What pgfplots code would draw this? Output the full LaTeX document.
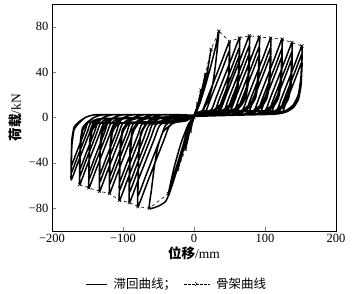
\documentclass[border=0pt]{standalone}
\usepackage{fontspec}
\setmainfont{Liberation Serif}
\newfontfamily\cjk{Noto Sans CJK SC}
\usepackage{pgfplots}
\pgfplotsset{compat=1.18}
\usetikzlibrary{shapes.misc}
\begin{document}
\begin{tikzpicture}
\useasboundingbox (-52pt,-63pt) rectangle (301pt,231pt);
\begin{axis}[
  width=284pt, height=227pt, scale only axis,
  xmin=-200, xmax=200, ymin=-100, ymax=100,
  xtick={-200,-100,0,100,200}, xticklabels={−200,−100,0,100,200},
  ytick={-80,-40,0,40,80}, yticklabels={−80,−40,0,40,80},
  tick align=inside, tick pos=left, major tick length=4pt,
  ticklabel style={font=\fontsize{12.5}{14}\selectfont},
  xlabel={{\cjk\bfseries 位移}/mm}, ylabel={{\cjk\bfseries 荷载}/kN},
  label style={font=\fontsize{13.5}{16}\selectfont},
  xlabel style={yshift=3pt},
  legend columns=2,
  legend style={draw=none, fill=none, at={(0.44,-0.233)}, anchor=center,
    font=\fontsize{12.5}{14}\selectfont,
    /tikz/every even column/.append style={column sep=6pt},
    /tikz/every odd column/.append style={column sep=4pt}},
]
\addplot[black, line width=1.5pt, line join=round, smooth, tension=0.3,
  legend image code/.code={\draw[black, line width=0.5pt] (0cm,0cm) -- (0.75cm,0cm);}] coordinates {
(0,0)(2.5,5)(5,12)(3,6)(0,1)(-2.5,-5)(-5,-12)(-3,-6)(0,0)
(5,10)(10,24)(6,12)(0,2)(-6,-12)(-12,-28)(-7,-14)(0,0)
(8,16)(16,38)(10,20)(3,4)(0,1)(-10,-18)(-23,-46)(-15,-26)(-5,-6)(0,0)
(8,12)(16,30)(24,60)(18,38)(10,16)(3,4)(0,1)(-10,-14)(-24,-42)(-36,-67)(-28,-44)(-18,-22)(-8,-6)(0,1)
(8,12)(16,28)(24,46)(30,61)(35,76)(33,62)(30,45)(26,28)(20,15)(12,6)(5,3)(0,1)(-8,-8)(-16,-26)(-24,-46)(-33,-64)(-40,-74)(-50,-78)(-63,-80)(-60,-64)(-56,-44)(-51,-26)(-44,-13)(-32,-6)(-16,-2)(0,1)
(6.5,2)(13,3)(28,6.7)(38,12.1)(45,21.4)(48.5,36.9)(49.7,53.6)(50,67)(39.5,50.3)(29.1,33.5)(18.6,16.8)(12.3,6.7)(5,3)(0,2)
(-22,2.5)(-44,2.5)(-59,0)(-69,-7.85)(-75,-15.7)(-78,-35.3)(-78.7,-58.9)(-79,-78.5)(-66.7,-58.9)(-54.5,-39.25)(-42.2,-19.6)(-34.8,-7.85)(-19.8,-1)(0,1)
(6.5,2)(13,3)(28,5.9)(38,10.6)(45,18.9)(48.5,32.5)(49.7,47.2)(50,59)(40.8,44.3)(31.6,29.5)(22.3,14.8)(16.8,5.9)(6,3)(0,2)
(-22,2.5)(-44,2.5)(-59,0)(-69,-6.9)(-75,-13.8)(-78,-31.1)(-78.7,-51.8)(-79,-69.1)(-68.2,-51.8)(-57.4,-34.55)(-46.6,-17.3)(-40.1,-6.9)(-25.1,-1)(0,1)
(13.5,2)(27,3)(42,7)(52,12.6)(59,22.4)(62.5,38.5)(63.7,56)(64,70)(53.1,52.5)(42.1,35)(31.2,17.5)(24.6,7)(9.6,3)(0,2)
(-28,2.5)(-56,2.5)(-71,0)(-81,-7.5)(-87,-15)(-90,-33.75)(-90.7,-56.25)(-91,-75)(-79.3,-56.25)(-67.6,-37.5)(-55.8,-18.75)(-48.8,-7.5)(-33.8,-1)(0,1)
(13.5,2)(27,3)(42,6.2)(52,11.1)(59,19.7)(62.5,33.9)(63.7,49.3)(64,61.6)(54.4,46.2)(44.75,30.8)(35.1,15.4)(29.35,6.2)(14.35,3)(0,2)
(-28,2.5)(-56,2.5)(-71,0)(-81,-6.6)(-87,-13.2)(-90,-29.7)(-90.7,-49.5)(-91,-66)(-80.7,-49.5)(-70.4,-33)(-60,-16.5)(-53.9,-6.6)(-38.9,-1)(0,1)
(20.5,2)(41,3)(56,7.2)(66,13)(73,23)(76.5,39.6)(77.7,57.6)(78,72)(66.75,54)(55.5,36)(44.25,18)(37.5,7.2)(22.5,3)(0,2)
(-35,2.5)(-70,2.5)(-85,0)(-95,-7.3)(-101,-14.6)(-104,-32.85)(-104.7,-54.75)(-105,-73)(-93.6,-54.75)(-82.2,-36.5)(-70.8,-18.25)(-63.9,-7.3)(-48.9,-1)(0,1)
(20.5,2)(41,3)(56,6.3)(66,11.4)(73,20.3)(76.5,34.9)(77.7,50.7)(78,63.4)(68.1,47.6)(58.2,31.7)(48.3,15.9)(42.3,6.3)(27.3,3)(0,2)
(-35,2.5)(-70,2.5)(-85,0)(-95,-6.4)(-101,-12.8)(-104,-28.9)(-104.7,-48.2)(-105,-64.2)(-95,-48.2)(-84.9,-32.1)(-74.9,-16)(-68.9,-6.4)(-53.9,-1)(0,1)
(27.5,2)(55,3)(70,7.1)(80,12.8)(87,22.7)(90.5,39)(91.7,56.8)(92,71)(80.9,53.25)(69.8,35.5)(58.7,17.75)(52.1,7.1)(37.1,3)(0,2)
(-42,2.5)(-84,2.5)(-99,0)(-109,-6.7)(-115,-13.4)(-118,-30.15)(-118.7,-50.25)(-119,-67)(-108.5,-50.25)(-98.1,-33.5)(-87.6,-16.75)(-81.3,-6.7)(-66.3,-1)(0,1)
(27.5,2)(55,3)(70,6.25)(80,11.25)(87,20)(90.5,34.4)(91.7,50)(92,62.5)(82.2,46.9)(72.5,31.25)(62.7,15.6)(56.8,6.25)(41.8,3)(0,2)
(-42,2.5)(-84,2.5)(-99,0)(-109,-5.9)(-115,-11.8)(-118,-26.55)(-118.7,-44.25)(-119,-59)(-109.8,-44.25)(-100.6,-29.5)(-91.3,-14.75)(-85.8,-5.9)(-70.8,-1)(0,1)
(35.5,2)(71,3)(86,7)(96,12.6)(103,22.4)(106.5,38.5)(107.7,56)(108,70)(97.1,52.5)(86.1,35)(75.2,17.5)(68.6,7)(53.6,3)(0,2)
(-49,2.5)(-98,2.5)(-113,0)(-123,-6.5)(-129,-13)(-132,-29.25)(-132.7,-48.75)(-133,-65)(-122.8,-48.75)(-112.7,-32.5)(-102.5,-16.25)(-96.4,-6.5)(-81.4,-1)(0,1)
(35.5,2)(71,3)(86,6.2)(96,11.1)(103,19.7)(106.5,33.9)(107.7,49.3)(108,61.6)(98.4,46.2)(88.75,30.8)(79.1,15.4)(73.35,6.2)(58.35,3)(0,2)
(-49,2.5)(-98,2.5)(-113,0)(-123,-5.7)(-129,-11.4)(-132,-25.7)(-132.7,-42.9)(-133,-57.2)(-124.1,-42.9)(-115.1,-28.6)(-106.2,-14.3)(-100.8,-5.7)(-85.8,-1)(0,1)
(43.5,2)(87,3)(102,6.9)(112,12.4)(119,22.1)(122.5,38)(123.7,55.2)(124,69)(113.2,51.75)(102.4,34.5)(91.6,17.25)(85.2,6.9)(70.2,3)(0,2)
(-56.5,2.5)(-113,2.5)(-128,0)(-138,-6.2)(-144,-12.4)(-147,-27.9)(-147.7,-46.5)(-148,-62)(-138.3,-46.5)(-128.6,-31)(-118.9,-15.5)(-113.1,-6.2)(-98.1,-1)(0,1)
(43.5,2)(87,3)(102,6.1)(112,10.9)(119,19.4)(122.5,33.4)(123.7,48.6)(124,60.7)(114.5,45.5)(105,30.35)(95.5,15.2)(89.9,6.1)(74.9,3)(0,2)
(-56.5,2.5)(-113,2.5)(-128,0)(-138,-5.5)(-144,-10.9)(-147,-24.6)(-147.7,-41)(-148,-54.6)(-139.5,-41)(-130.9,-27.3)(-122.4,-13.65)(-117.3,-5.5)(-102.3,-1)(0,1)
(50.5,2)(101,3)(116,6.6)(126,11.9)(133,21.1)(136.5,36.3)(137.7,52.8)(138,66)(127.7,49.5)(117.4,33)(107,16.5)(100.9,6.6)(85.9,3)(0,2)
(-63,2.5)(-126,2.5)(-141,0)(-151,-5.9)(-157,-11.8)(-160,-26.55)(-160.7,-44.25)(-161,-59)(-151.8,-44.25)(-142.6,-29.5)(-133.3,-14.75)(-127.8,-5.9)(-112.8,-1)(0,1)
(50.5,2)(101,3)(116,5.8)(126,10.4)(133,18.6)(136.5,31.9)(137.7,46.4)(138,58)(128.9,43.5)(119.9,29)(110.8,14.5)(105.4,5.8)(90.4,3)(0,2)
(-63,2.5)(-126,2.5)(-141,0)(-151,-5.2)(-157,-10.4)(-160,-23.4)(-160.7,-39)(-161,-52)(-152.9,-39)(-144.75,-26)(-136.6,-13)(-131.75,-5.2)(-116.75,-1)(0,1)
(57.5,2)(115,3)(130,6.3)(140,11.3)(147,20.2)(150.5,34.7)(151.7,50.4)(152,63)(142.2,47.25)(132.3,31.5)(122.5,15.75)(116.6,6.3)(101.6,3)(0,2)
(-69,2.5)(-138,2.5)(-153,0)(-163,-5.5)(-169,-11)(-172,-24.75)(-172.7,-41.25)(-173,-55)(-164.4,-41.25)(-155.8,-27.5)(-147.2,-13.75)(-142.1,-5.5)(-127.1,-1)(0,1)
(57.5,2)(115,3)(130,5.6)(140,10.1)(147,17.9)(150.5,30.8)(151.7,44.8)(152,56)(143.25,42)(134.5,28)(125.7,14)(120.5,5.6)(105.5,3)(0,2)
(-69,2.5)(-138,2.5)(-153,0)(-163,-4.9)(-169,-9.8)(-172,-22)(-172.7,-36.75)(-173,-49)(-165.3,-36.75)(-157.7,-24.5)(-150,-12.25)(-145.4,-4.9)(-130.4,-1)(0,1)
(13.5,2)(27,3)(42,5.5)(52,9.8)(59,17.5)(62.5,30)(63.7,43.7)(64,54.6)(55.5,41)(46.9,27.3)(38.4,13.65)(33.3,5.5)(13.3,6)(4,4)(0,2)
(-28,2.5)(-56,2.5)(-71,0)(-81,-5.85)(-87,-11.7)(-90,-26.3)(-90.7,-43.9)(-91,-58.5)(-81.9,-43.9)(-72.7,-29.25)(-63.6,-14.6)(-58.1,-5.85)(-38.1,-5)(-11.4,-3)(0,1)
(20.5,2)(41,3)(56,5.6)(66,10.1)(73,18)(76.5,30.9)(77.7,45)(78,56.2)(69.2,42.15)(60.4,28.1)(51.6,14.05)(46.4,5.6)(26.4,6)(8,4)(0,2)
(-35,2.5)(-70,2.5)(-85,0)(-95,-5.7)(-101,-11.4)(-104,-25.6)(-104.7,-42.7)(-105,-56.9)(-96.1,-42.7)(-87.2,-28.45)(-78.3,-14.2)(-73,-5.7)(-53,-5)(-16,-3)(0,1)
(27.5,2)(55,3)(70,5.5)(80,10)(87,17.7)(90.5,30.5)(91.7,44.3)(92,55.4)(83.3,41.55)(74.7,27.7)(66,13.85)(60.8,5.5)(40.8,6)(12,4)(0,2)
(-42,2.5)(-84,2.5)(-99,0)(-109,-5.2)(-115,-10.5)(-118,-23.5)(-118.7,-39.2)(-119,-52.3)(-110.8,-39.2)(-102.7,-26.15)(-94.5,-13.1)(-89.6,-5.2)(-69.6,-5)(-21,-3)(0,1)
(35.5,2)(71,3)(86,5.5)(96,9.8)(103,17.5)(106.5,30)(107.7,43.7)(108,54.6)(99.5,41)(90.9,27.3)(82.4,13.65)(77.3,5.5)(57.3,6)(17,4)(0,2)
(-49,2.5)(-98,2.5)(-113,0)(-123,-5.1)(-129,-10.1)(-132,-22.8)(-132.7,-38)(-133,-50.7)(-125.1,-38)(-117.2,-25.35)(-109.2,-12.7)(-104.5,-5.1)(-84.5,-5)(-25,-3)(0,1)
(43.5,2)(87,3)(102,5.4)(112,9.7)(119,17.2)(122.5,29.6)(123.7,43)(124,53.8)(115.6,40.35)(107.2,26.9)(98.8,13.45)(93.7,5.4)(73.7,6)(22,4)(0,2)
(-56.5,2.5)(-113,2.5)(-128,0)(-138,-4.8)(-144,-9.7)(-147,-21.8)(-147.7,-36.3)(-148,-48.4)(-140.4,-36.3)(-132.9,-24.2)(-125.3,-12.1)(-120.8,-4.8)(-100.8,-5)(-30,-3)(0,1)
(50.5,2)(101,3)(116,5.2)(126,9.3)(133,16.5)(136.5,28.3)(137.7,41.2)(138,51.5)(130,38.6)(121.9,25.75)(113.8,12.9)(109,5.2)(89,6)(27,4)(0,2)
(-63,2.5)(-126,2.5)(-141,0)(-151,-4.6)(-157,-9.2)(-160,-20.7)(-160.7,-34.5)(-161,-46)(-153.8,-34.5)(-146.6,-23)(-139.4,-11.5)(-135.1,-4.6)(-115.1,-5)(-35,-3)(0,1)
(57.5,2)(115,3)(130,4.9)(140,8.8)(147,15.7)(150.5,27)(151.7,39.3)(152,49.1)(144.3,36.8)(136.7,24.55)(129,12.3)(124.4,4.9)(104.4,6)(31,4)(0,2)
(-69,2.5)(-138,2.5)(-153,0)(-163,-4.3)(-169,-8.6)(-172,-19.3)(-172.7,-32.2)(-173,-42.9)(-166.3,-32.2)(-159.6,-21.45)(-152.9,-10.7)(-148.9,-4.3)(-128.9,-5)(-39,-3)(0,1)
};
\addlegendentry{{\cjk 滞回曲线；}}
\addplot[black, dashed, line width=0.6pt, mark=x, mark size=2.2pt, mark options={solid},
  legend image code/.code={\draw[black, line width=0.5pt, dash pattern=on 2.5pt off 1.5pt] (0cm,0cm) -- (0.9cm,0cm); \draw[black, line width=0.5pt] (0.45cm,0cm) node[cross out, draw, inner sep=0pt, minimum size=3.5pt] {};}] coordinates {
(-161,-59)(-148,-62)(-133,-65)(-119,-67)(-105,-73)(-91,-75)(-79,-78.5)(-63,-80)(-36,-67)(-23,-46)(-12,-28)(-5,-12)(0,0)(5,12)(10,24)(16,38)(24,60)(35,76)(50,67)(64,70)(78,72)(92,71)(108,70)(124,69)(138,66)(152,63)
};
\addlegendentry{{\cjk 骨架曲线}}
\end{axis}
\end{tikzpicture}
\end{document}
